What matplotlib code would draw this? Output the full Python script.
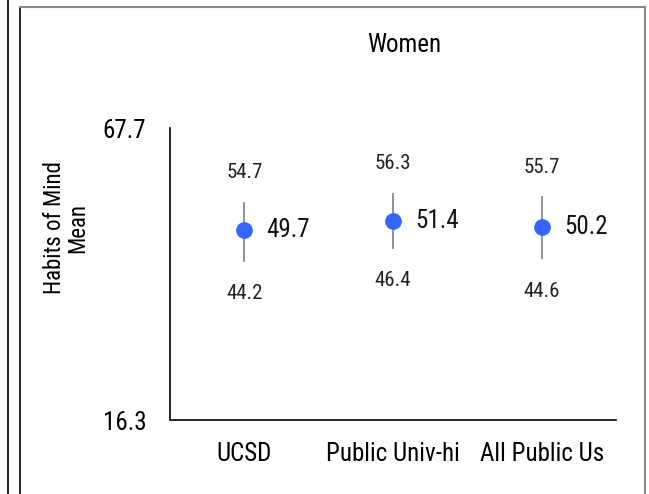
import matplotlib
matplotlib.use('Agg')
import matplotlib.pyplot as plt
from matplotlib.lines import Line2D

plt.rcParams['font.family'] = ['Roboto Condensed', 'DejaVu Sans']

groups = ['UCSD', 'Public Univ-hi', 'All Public Us']
means = [49.7, 51.4, 50.2]
upper = [54.7, 56.3, 55.7]
lower = [44.2, 46.4, 44.6]
y_min, y_max = 16.3, 67.7

fig = plt.figure(figsize=(6.49, 4.94), dpi=100)
ax = fig.add_axes([170/649, 1-420/494, 446/649, 292/494])

x = list(range(len(groups)))
err = [[m - l for m, l in zip(means, lower)], [u - m for m, u in zip(means, upper)]]
ax.errorbar(x, means, yerr=err, fmt='none', ecolor='#808080', elinewidth=1.2, capsize=0, zorder=2)
ax.plot(x, means, 'o', color='#3366FF', markersize=11, zorder=3)

for i in x:
    ax.annotate(f'{means[i]:.1f}', (i, means[i]), xytext=(16, 0), textcoords='offset points',
                ha='left', va='center', fontsize=18, color='#111111')
    ax.annotate(f'{upper[i]:.1f}', (i, upper[i]), xytext=(0, 21), textcoords='offset points',
                ha='center', va='center', fontsize=15, color='#222222')
    ax.annotate(f'{lower[i]:.1f}', (i, lower[i]), xytext=(0, -23), textcoords='offset points',
                ha='center', va='center', fontsize=15, color='#222222')

ax.set_xlim(-0.5, 2.5)
ax.set_ylim(y_min, y_max)
ax.set_xticks(x)
ax.set_xticklabels(groups, fontsize=18)
ax.set_yticks([y_min, y_max])
ax.set_yticklabels([f'{y_min}', f'{y_max}'], fontsize=18)
ax.tick_params(axis='both', length=0)
ax.tick_params(axis='y', pad=17)
ax.tick_params(axis='x', pad=16)
for s in ['top', 'right']:
    ax.spines[s].set_visible(False)
for s in ['left', 'bottom']:
    ax.spines[s].set_linewidth(1.2)

fig.text(404/649, 1-45/494, 'Women', ha='center', va='center', fontsize=18)
fig.text(66/649, 1-228/494, 'Habits of Mind\nMean', ha='center', va='center',
         rotation=90, fontsize=16.5, linespacing=1.0)

# panel frame
fig.add_artist(Line2D([8/649, 8/649], [0, 1], color='black', lw=1.2))
fig.add_artist(Line2D([19.5/649, 19.5/649], [0, 1-7.5/494], color='black', lw=1.2))
fig.add_artist(Line2D([19.5/649, 645/649], [1-7.5/494, 1-7.5/494], color='#888888', lw=1.5))
fig.add_artist(Line2D([645/649, 645/649], [0, 1-7.5/494], color='#888888', lw=1.5))

fig.savefig('out.png', dpi=100)
